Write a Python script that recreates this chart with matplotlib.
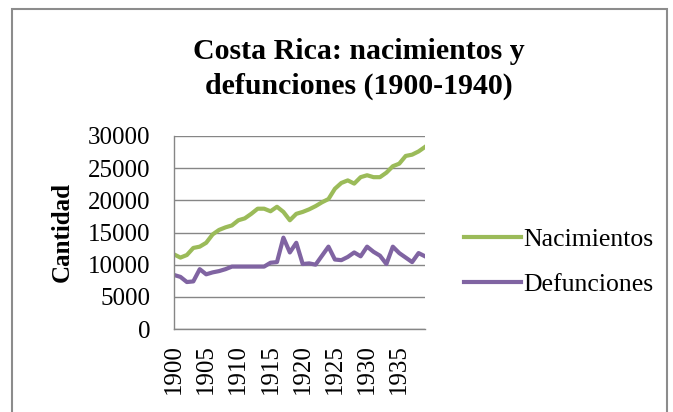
import numpy as np
import matplotlib
matplotlib.use("Agg")
import matplotlib.pyplot as plt
from matplotlib.patches import Rectangle

plt.rcParams['font.family'] = ['Liberation Serif', 'DejaVu Serif']

years = list(range(1900, 1940))
nacimientos = [11600, 11100, 11500, 12600, 12800, 13400, 14700, 15400, 15800, 16100,
               16900, 17200, 17900, 18700, 18700, 18300, 19000, 18200, 16900, 17900,
               18200, 18600, 19100, 19700, 20200, 21800, 22700, 23100, 22600, 23600,
               23900, 23600, 23600, 24300, 25300, 25700, 26900, 27100, 27600, 28300]
defunciones = [8400, 8100, 7300, 7400, 9300, 8500, 8800, 9000, 9300, 9700,
               9700, 9700, 9700, 9700, 9700, 10300, 10400, 14200, 11900, 13400,
               10100, 10200, 10000, 11400, 12800, 10800, 10700, 11200, 11900, 11300,
               12800, 12000, 11400, 10100, 12800, 11800, 11100, 10400, 11800, 11300]
yticks = [0, 5000, 10000, 15000, 20000, 25000, 30000]
xticks = list(range(1900, 1940, 5))

fig = plt.figure(figsize=(6.73, 4.12), dpi=100)
fig.patches.append(Rectangle((12 / 673, -0.05), 655 / 673, 1 - 9 / 412 + 0.05,
                             transform=fig.transFigure, fill=False,
                             edgecolor='#8c8c8c', linewidth=1.5))

ax = fig.add_axes([174 / 673, 1 - 329 / 412, 251 / 673, 193 / 412])
ax.plot(years, nacimientos, color='#9BBB59', linewidth=3, label='Nacimientos')
ax.plot(years, defunciones, color='#8064A2', linewidth=3, label='Defunciones')

ax.set_xlim(1900, 1939)
ax.set_ylim(0, 30000)
ax.set_yticks(yticks)
ax.set_yticklabels([str(v) for v in yticks])
ax.set_xticks(xticks)
ax.set_xticklabels([str(v) for v in xticks], rotation=90)
ax.tick_params(axis='y', length=0, pad=17, labelsize=18)
ax.tick_params(axis='x', length=0, pad=11, labelsize=18)
ax.grid(axis='y', color='#868686', linewidth=1)
ax.set_axisbelow(True)
for s in ['top', 'right']:
    ax.spines[s].set_visible(False)
for s in ['left', 'bottom']:
    ax.spines[s].set_color('#868686')
    ax.spines[s].set_linewidth(1)

fig.text(62 / 673, 1 - 232 / 412, 'Cantidad', rotation=90, fontsize=18,
         fontweight='bold', ha='center', va='center')
fig.text(359 / 673, 1 - 69 / 412, 'Costa Rica: nacimientos y\ndefunciones (1900-1940)',
         fontsize=21.5, fontweight='bold', ha='center', va='center', linespacing=1.35)

fig.legend(loc='center left', bbox_to_anchor=(464 / 673, 1 - 262 / 412), frameon=False,
           fontsize=18.5, handlelength=2.2, handletextpad=0.1, labelspacing=0.85,
           borderaxespad=0, borderpad=0)

fig.savefig('out.png', dpi=100)
